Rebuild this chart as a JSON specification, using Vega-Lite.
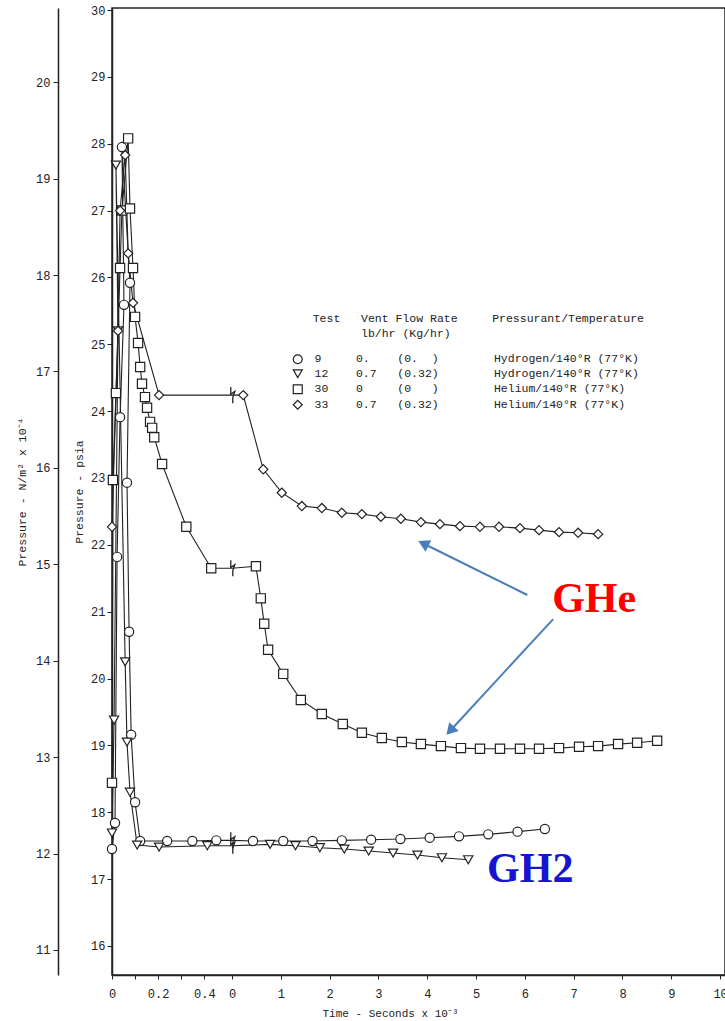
{
  "$schema": "https://vega.github.io/schema/vega-lite/v6.json",
  "width": 613,
  "height": 967,
  "autosize": "none",
  "padding": {"left": 112, "top": 8, "right": 0, "bottom": 46},
  "background": "white",
  "config": {
    "view": {"stroke": "#222", "strokeWidth": 1.5},
    "axis": {"labelFont": "Liberation Mono", "titleFont": "Liberation Mono", "labelFontSize": 12, "titleFontSize": 11, "titleFontWeight": "normal", "labelColor": "#222", "titleColor": "#222", "domainColor": "#222", "tickColor": "#222", "domainWidth": 1.5, "grid": false, "labelFlush": false, "labelOverlap": false},
    "legend": {"titleFont": "Liberation Mono", "labelFont": "Liberation Mono", "titleFontSize": 11.5, "labelFontSize": 11.5, "titleFontWeight": "normal", "titleColor": "#222", "labelColor": "#222", "titleLineHeight": 15}
  },
  "datasets": {
    "series": [
      {"s": "9", "g": "L", "t": 0, "p": 17.45, "k": "m"},
      {"s": "9", "g": "L", "t": 0.013, "p": 17.84, "k": "m"},
      {"s": "9", "g": "L", "t": 0.022, "p": 21.82, "k": "m"},
      {"s": "9", "g": "L", "t": 0.035, "p": 23.91, "k": "m"},
      {"s": "9", "g": "L", "t": 0.052, "p": 25.59, "k": "m"},
      {"s": "9", "g": "L", "t": 0.043, "p": 27.95, "k": "m"},
      {"s": "9", "g": "L", "t": 0.078, "p": 25.92, "k": "m"},
      {"s": "9", "g": "L", "t": 0.065, "p": 22.93, "k": "m"},
      {"s": "9", "g": "L", "t": 0.074, "p": 20.7, "k": "m"},
      {"s": "9", "g": "L", "t": 0.083, "p": 19.16, "k": "m"},
      {"s": "9", "g": "L", "t": 0.1, "p": 18.15, "k": "m"},
      {"s": "9", "g": "L", "t": 0.122, "p": 17.57, "k": "m"},
      {"s": "9", "g": "L", "t": 0.239, "p": 17.57, "k": "m"},
      {"s": "9", "g": "L", "t": 0.348, "p": 17.57, "k": "m"},
      {"s": "9", "g": "L", "t": 0.452, "p": 17.58, "k": "m"},
      {"s": "9", "g": "L", "t": 0.52, "p": 17.58, "k": "b"},
      {"s": "9", "g": "R", "t": 0, "p": 17.58, "k": "b"},
      {"s": "9", "g": "R", "t": 0.43, "p": 17.57, "k": "m"},
      {"s": "9", "g": "R", "t": 1.05, "p": 17.57, "k": "m"},
      {"s": "9", "g": "R", "t": 1.65, "p": 17.57, "k": "m"},
      {"s": "9", "g": "R", "t": 2.25, "p": 17.58, "k": "m"},
      {"s": "9", "g": "R", "t": 2.85, "p": 17.59, "k": "m"},
      {"s": "9", "g": "R", "t": 3.45, "p": 17.6, "k": "m"},
      {"s": "9", "g": "R", "t": 4.05, "p": 17.62, "k": "m"},
      {"s": "9", "g": "R", "t": 4.65, "p": 17.64, "k": "m"},
      {"s": "9", "g": "R", "t": 5.25, "p": 17.67, "k": "m"},
      {"s": "9", "g": "R", "t": 5.85, "p": 17.71, "k": "m"},
      {"s": "9", "g": "R", "t": 6.41, "p": 17.75, "k": "m"},
      {"s": "12", "g": "L", "t": 0, "p": 17.69, "k": "m"},
      {"s": "12", "g": "L", "t": 0.009, "p": 19.38, "k": "m"},
      {"s": "12", "g": "L", "t": 0.026, "p": 25.2, "k": "m"},
      {"s": "12", "g": "L", "t": 0.017, "p": 27.68, "k": "m"},
      {"s": "12", "g": "L", "t": 0.057, "p": 20.25, "k": "m"},
      {"s": "12", "g": "L", "t": 0.065, "p": 19.05, "k": "m"},
      {"s": "12", "g": "L", "t": 0.078, "p": 18.3, "k": "m"},
      {"s": "12", "g": "L", "t": 0.109, "p": 17.51, "k": "m"},
      {"s": "12", "g": "L", "t": 0.204, "p": 17.48, "k": "m"},
      {"s": "12", "g": "L", "t": 0.413, "p": 17.5, "k": "m"},
      {"s": "12", "g": "L", "t": 0.52, "p": 17.5, "k": "b"},
      {"s": "12", "g": "R", "t": 0, "p": 17.5, "k": "b"},
      {"s": "12", "g": "R", "t": 0.78, "p": 17.52, "k": "m"},
      {"s": "12", "g": "R", "t": 1.3, "p": 17.5, "k": "m"},
      {"s": "12", "g": "R", "t": 1.8, "p": 17.47, "k": "m"},
      {"s": "12", "g": "R", "t": 2.3, "p": 17.45, "k": "m"},
      {"s": "12", "g": "R", "t": 2.8, "p": 17.42, "k": "m"},
      {"s": "12", "g": "R", "t": 3.3, "p": 17.39, "k": "m"},
      {"s": "12", "g": "R", "t": 3.8, "p": 17.36, "k": "m"},
      {"s": "12", "g": "R", "t": 4.3, "p": 17.32, "k": "m"},
      {"s": "12", "g": "R", "t": 4.84, "p": 17.29, "k": "m"},
      {"s": "30", "g": "L", "t": 0, "p": 18.44, "k": "m"},
      {"s": "30", "g": "L", "t": 0.004, "p": 22.97, "k": "m"},
      {"s": "30", "g": "L", "t": 0.017, "p": 24.27, "k": "m"},
      {"s": "30", "g": "L", "t": 0.035, "p": 26.14, "k": "m"},
      {"s": "30", "g": "L", "t": 0.043, "p": 27.0, "k": "m"},
      {"s": "30", "g": "L", "t": 0.07, "p": 28.08, "k": "m"},
      {"s": "30", "g": "L", "t": 0.078, "p": 27.03, "k": "m"},
      {"s": "30", "g": "L", "t": 0.091, "p": 26.14, "k": "m"},
      {"s": "30", "g": "L", "t": 0.1, "p": 25.41, "k": "m"},
      {"s": "30", "g": "L", "t": 0.113, "p": 25.02, "k": "m"},
      {"s": "30", "g": "L", "t": 0.122, "p": 24.66, "k": "m"},
      {"s": "30", "g": "L", "t": 0.13, "p": 24.41, "k": "m"},
      {"s": "30", "g": "L", "t": 0.143, "p": 24.21, "k": "m"},
      {"s": "30", "g": "L", "t": 0.152, "p": 24.05, "k": "m"},
      {"s": "30", "g": "L", "t": 0.165, "p": 23.84, "k": "m"},
      {"s": "30", "g": "L", "t": 0.174, "p": 23.75, "k": "m"},
      {"s": "30", "g": "L", "t": 0.183, "p": 23.61, "k": "m"},
      {"s": "30", "g": "L", "t": 0.217, "p": 23.21, "k": "m"},
      {"s": "30", "g": "L", "t": 0.322, "p": 22.27, "k": "m"},
      {"s": "30", "g": "L", "t": 0.43, "p": 21.65, "k": "m"},
      {"s": "30", "g": "L", "t": 0.52, "p": 21.65, "k": "b"},
      {"s": "30", "g": "R", "t": 0, "p": 21.65, "k": "b"},
      {"s": "30", "g": "R", "t": 0.49, "p": 21.68, "k": "m"},
      {"s": "30", "g": "R", "t": 0.59, "p": 21.2, "k": "m"},
      {"s": "30", "g": "R", "t": 0.66, "p": 20.82, "k": "m"},
      {"s": "30", "g": "R", "t": 0.74, "p": 20.43, "k": "m"},
      {"s": "30", "g": "R", "t": 1.05, "p": 20.07, "k": "m"},
      {"s": "30", "g": "R", "t": 1.41, "p": 19.68, "k": "m"},
      {"s": "30", "g": "R", "t": 1.84, "p": 19.47, "k": "m"},
      {"s": "30", "g": "R", "t": 2.27, "p": 19.32, "k": "m"},
      {"s": "30", "g": "R", "t": 2.66, "p": 19.19, "k": "m"},
      {"s": "30", "g": "R", "t": 3.07, "p": 19.11, "k": "m"},
      {"s": "30", "g": "R", "t": 3.48, "p": 19.05, "k": "m"},
      {"s": "30", "g": "R", "t": 3.87, "p": 19.02, "k": "m"},
      {"s": "30", "g": "R", "t": 4.28, "p": 18.99, "k": "m"},
      {"s": "30", "g": "R", "t": 4.69, "p": 18.96, "k": "m"},
      {"s": "30", "g": "R", "t": 5.08, "p": 18.95, "k": "m"},
      {"s": "30", "g": "R", "t": 5.49, "p": 18.95, "k": "m"},
      {"s": "30", "g": "R", "t": 5.9, "p": 18.95, "k": "m"},
      {"s": "30", "g": "R", "t": 6.29, "p": 18.95, "k": "m"},
      {"s": "30", "g": "R", "t": 6.7, "p": 18.96, "k": "m"},
      {"s": "30", "g": "R", "t": 7.11, "p": 18.98, "k": "m"},
      {"s": "30", "g": "R", "t": 7.5, "p": 18.99, "k": "m"},
      {"s": "30", "g": "R", "t": 7.91, "p": 19.02, "k": "m"},
      {"s": "30", "g": "R", "t": 8.3, "p": 19.04, "k": "m"},
      {"s": "30", "g": "R", "t": 8.71, "p": 19.07, "k": "m"},
      {"s": "33", "g": "L", "t": 0, "p": 22.27, "k": "m"},
      {"s": "33", "g": "L", "t": 0.026, "p": 25.2, "k": "m"},
      {"s": "33", "g": "L", "t": 0.035, "p": 27.0, "k": "m"},
      {"s": "33", "g": "L", "t": 0.057, "p": 27.83, "k": "m"},
      {"s": "33", "g": "L", "t": 0.07, "p": 26.36, "k": "m"},
      {"s": "33", "g": "L", "t": 0.091, "p": 25.62, "k": "m"},
      {"s": "33", "g": "L", "t": 0.204, "p": 24.24, "k": "m"},
      {"s": "33", "g": "L", "t": 0.52, "p": 24.24, "k": "b"},
      {"s": "33", "g": "R", "t": 0, "p": 24.24, "k": "b"},
      {"s": "33", "g": "R", "t": 0.23, "p": 24.24, "k": "m"},
      {"s": "33", "g": "R", "t": 0.64, "p": 23.13, "k": "m"},
      {"s": "33", "g": "R", "t": 1.02, "p": 22.78, "k": "m"},
      {"s": "33", "g": "R", "t": 1.43, "p": 22.58, "k": "m"},
      {"s": "33", "g": "R", "t": 1.84, "p": 22.55, "k": "m"},
      {"s": "33", "g": "R", "t": 2.25, "p": 22.48, "k": "m"},
      {"s": "33", "g": "R", "t": 2.66, "p": 22.46, "k": "m"},
      {"s": "33", "g": "R", "t": 3.05, "p": 22.42, "k": "m"},
      {"s": "33", "g": "R", "t": 3.46, "p": 22.39, "k": "m"},
      {"s": "33", "g": "R", "t": 3.87, "p": 22.34, "k": "m"},
      {"s": "33", "g": "R", "t": 4.26, "p": 22.31, "k": "m"},
      {"s": "33", "g": "R", "t": 4.67, "p": 22.28, "k": "m"},
      {"s": "33", "g": "R", "t": 5.08, "p": 22.27, "k": "m"},
      {"s": "33", "g": "R", "t": 5.47, "p": 22.27, "k": "m"},
      {"s": "33", "g": "R", "t": 5.9, "p": 22.25, "k": "m"},
      {"s": "33", "g": "R", "t": 6.29, "p": 22.22, "k": "m"},
      {"s": "33", "g": "R", "t": 6.7, "p": 22.19, "k": "m"},
      {"s": "33", "g": "R", "t": 7.09, "p": 22.18, "k": "m"},
      {"s": "33", "g": "R", "t": 7.5, "p": 22.16, "k": "m"}
    ],
    "notes": [
      {"label": "GHe", "t": 7.42, "p": 21.0},
      {"label": "GH2", "t": 6.11, "p": 16.957}
    ],
    "arrows": [
      {"a": 1, "t": 6.05, "p": 21.25, "t2": 3.92, "p2": 22.02},
      {"a": 2, "t": 6.58, "p": 20.89, "t2": 4.47, "p2": 19.22}
    ],
    "outer": [{"v": 11}, {"v": 20}]
  },
  "layer": [
    {
      "data": {"name": "outer"},
      "mark": {"type": "point", "opacity": 0},
      "encoding": {
        "y": {"field": "v", "type": "quantitative",
          "scale": {"domain": [10.74, 20.77], "zero": false, "nice": false},
          "axis": {"orient": "left", "offset": 54, "values": [11, 12, 13, 14, 15, 16, 17, 18, 19, 20], "tickSize": 5, "labelPadding": 3, "title": "Pressure - N/m² x 10⁻⁴", "titlePadding": 8, "titleFontSize": 11.5}}
      }
    },
    {
      "data": {"name": "series"},
      "transform": [{"filter": "datum.g == 'L'"}],
      "mark": {"type": "line", "color": "#222", "strokeWidth": 1.1},
      "encoding": {
        "x": {"field": "t", "type": "quantitative", "scale": {"domain": [0, 0.52], "range": [0, 120], "zero": false, "nice": false},
          "axis": {"orient": "bottom", "values": [0, 0.1, 0.2, 0.3, 0.4], "labelExpr": "datum.value == 0 ? '0' : (datum.value == 0.2 || datum.value == 0.4) ? format(datum.value, '.1f') : ''", "tickSize": 4, "labelPadding": 9, "title": null}},
        "y": {"field": "p", "type": "quantitative", "scale": {"domain": [15.566, 30.03], "zero": false, "nice": false},
          "axis": {"orient": "left", "values": [16, 17, 18, 19, 20, 21, 22, 23, 24, 25, 26, 27, 28, 29, 30], "tickSize": 5, "labelPadding": 2, "title": "Pressure - psia", "titlePadding": 6, "titleFontSize": 11.5}},
        "detail": {"field": "s"},
        "order": {"value": null}
      }
    },
    {
      "data": {"name": "series"},
      "transform": [{"filter": "datum.g == 'R'"}],
      "mark": {"type": "line", "color": "#222", "strokeWidth": 1.1},
      "encoding": {
        "x": {"field": "t", "type": "quantitative", "scale": {"domain": [0, 10.1], "range": [120, 613], "zero": false, "nice": false},
          "axis": {"orient": "bottom", "values": [0, 1, 2, 3, 4, 5, 6, 7, 8, 9, 10], "tickSize": 4, "labelPadding": 9, "title": "Time - Seconds x 10⁻³", "titleX": 278, "titleY": 32, "titleFontSize": 11}},
        "y": {"field": "p", "type": "quantitative", "scale": {"domain": [15.566, 30.03], "zero": false, "nice": false}, "axis": null},
        "detail": {"field": "s"},
        "order": {"value": null}
      }
    },
    {
      "data": {"name": "series"},
      "transform": [{"filter": "datum.g == 'R' && datum.k == 'b'"}],
      "mark": {"type": "point", "shape": "M-0.15,-1L-0.15,-0.1L0.35,-0.45L0.1,0.3L0.1,1", "filled": false, "stroke": "#222", "strokeWidth": 1.3, "size": 260, "opacity": 1},
      "encoding": {
        "x": {"field": "t", "type": "quantitative", "scale": {"domain": [0, 10.1], "range": [120, 613], "zero": false, "nice": false}, "axis": null},
        "y": {"field": "p", "type": "quantitative", "scale": {"domain": [15.566, 30.03], "zero": false, "nice": false}, "axis": null}
      }
    },
    {
      "data": {"name": "series"},
      "transform": [{"filter": "datum.g == 'L' && datum.k == 'm'"}],
      "mark": {"type": "point", "filled": true, "fill": "white", "stroke": "#222", "strokeWidth": 1.2, "size": 85, "opacity": 1},
      "encoding": {
        "x": {"field": "t", "type": "quantitative", "scale": {"domain": [0, 0.52], "range": [0, 120], "zero": false, "nice": false}, "axis": null},
        "y": {"field": "p", "type": "quantitative", "scale": {"domain": [15.566, 30.03], "zero": false, "nice": false}, "axis": null},
        "shape": {"field": "s", "type": "nominal", "scale": {"domain": ["9", "12", "30", "33"], "range": ["circle", "triangle-down", "square", "diamond"]}}
      }
    },
    {
      "data": {"name": "series"},
      "transform": [{"filter": "datum.g == 'R' && datum.k == 'm'"}],
      "mark": {"type": "point", "filled": true, "fill": "white", "stroke": "#222", "strokeWidth": 1.2, "size": 85, "opacity": 1},
      "encoding": {
        "x": {"field": "t", "type": "quantitative", "scale": {"domain": [0, 10.1], "range": [120, 613], "zero": false, "nice": false}, "axis": null},
        "y": {"field": "p", "type": "quantitative", "scale": {"domain": [15.566, 30.03], "zero": false, "nice": false}, "axis": null},
        "shape": {"field": "s", "type": "nominal", "scale": {"domain": ["9", "12", "30", "33"], "range": ["circle", "triangle-down", "square", "diamond"]},
          "legend": {
            "orient": "none", "legendX": 180, "legendY": 305,
            "title": ["\u200b\u00a0\u00a0\u00a0Test\u00a0\u00a0\u00a0Vent Flow Rate\u00a0\u00a0\u00a0\u00a0\u00a0Pressurant/Temperature", "\u200b\u00a0\u00a0\u00a0\u00a0\u00a0\u00a0\u00a0\u00a0\u00a0\u00a0lb/hr\u00a0(Kg/hr)"],
            "titleLimit": 700,
            "titlePadding": 14,
            "labelOffset": 11,
            "labelLimit": 500,
            "rowPadding": 0.5,
            "symbolSize": 80,
            "symbolStrokeColor": "#222",
            "symbolFillColor": "white",
            "symbolStrokeWidth": 1.2,
            "labelExpr": "{'9': '9\u00a0\u00a0\u00a0\u00a0\u00a00.\u00a0\u00a0\u00a0\u00a0(0.\u00a0\u00a0)\u00a0\u00a0\u00a0\u00a0\u00a0\u00a0\u00a0\u00a0Hydrogen/140°R\u00a0(77°K)', '12': '12\u00a0\u00a0\u00a0\u00a00.7\u00a0\u00a0\u00a0(0.32)\u00a0\u00a0\u00a0\u00a0\u00a0\u00a0\u00a0\u00a0Hydrogen/140°R\u00a0(77°K)', '30': '30\u00a0\u00a0\u00a0\u00a00\u00a0\u00a0\u00a0\u00a0\u00a0(0\u00a0\u00a0\u00a0)\u00a0\u00a0\u00a0\u00a0\u00a0\u00a0\u00a0\u00a0Helium/140°R\u00a0(77°K)', '33': '33\u00a0\u00a0\u00a0\u00a00.7\u00a0\u00a0\u00a0(0.32)\u00a0\u00a0\u00a0\u00a0\u00a0\u00a0\u00a0\u00a0Helium/140°R\u00a0(77°K)'}[datum.label]"
          }}
      }
    },
    {
      "data": {"name": "arrows"},
      "mark": {"type": "rule", "color": "#4a7ebb", "strokeWidth": 2},
      "encoding": {
        "x": {"field": "t", "type": "quantitative", "scale": {"domain": [0, 10.1], "range": [120, 613], "zero": false, "nice": false}, "axis": null},
        "y": {"field": "p", "type": "quantitative", "scale": {"domain": [15.566, 30.03], "zero": false, "nice": false}, "axis": null},
        "x2": {"field": "t2"},
        "y2": {"field": "p2"}
      }
    },
    {
      "data": {"name": "arrows"},
      "transform": [{"filter": "datum.a == 1"}],
      "mark": {"type": "point", "shape": "triangle-up", "filled": true, "color": "#4a7ebb", "size": 170, "angle": 296, "opacity": 1},
      "encoding": {
        "x": {"field": "t2", "type": "quantitative", "scale": {"domain": [0, 10.1], "range": [120, 613], "zero": false, "nice": false}, "axis": null},
        "y": {"field": "p2", "type": "quantitative", "scale": {"domain": [15.566, 30.03], "zero": false, "nice": false}, "axis": null}
      }
    },
    {
      "data": {"name": "arrows"},
      "transform": [{"filter": "datum.a == 2"}],
      "mark": {"type": "point", "shape": "triangle-up", "filled": true, "color": "#4a7ebb", "size": 170, "angle": 223, "opacity": 1},
      "encoding": {
        "x": {"field": "t2", "type": "quantitative", "scale": {"domain": [0, 10.1], "range": [120, 613], "zero": false, "nice": false}, "axis": null},
        "y": {"field": "p2", "type": "quantitative", "scale": {"domain": [15.566, 30.03], "zero": false, "nice": false}, "axis": null}
      }
    },
    {
      "data": {"name": "notes"},
      "mark": {"type": "text", "font": "Liberation Serif", "fontWeight": "bold", "fontSize": 42, "align": "center", "baseline": "alphabetic"},
      "encoding": {
        "x": {"field": "t", "type": "quantitative", "scale": {"domain": [0, 10.1], "range": [120, 613], "zero": false, "nice": false}, "axis": null},
        "y": {"field": "p", "type": "quantitative", "scale": {"domain": [15.566, 30.03], "zero": false, "nice": false}, "axis": null},
        "text": {"field": "label"},
        "color": {"field": "label", "type": "nominal", "scale": {"domain": ["GHe", "GH2"], "range": ["#ff0000", "#1414d2"]}, "legend": null}
      }
    }
  ],
  "resolve": {"scale": {"x": "independent", "y": "independent"}}
}
